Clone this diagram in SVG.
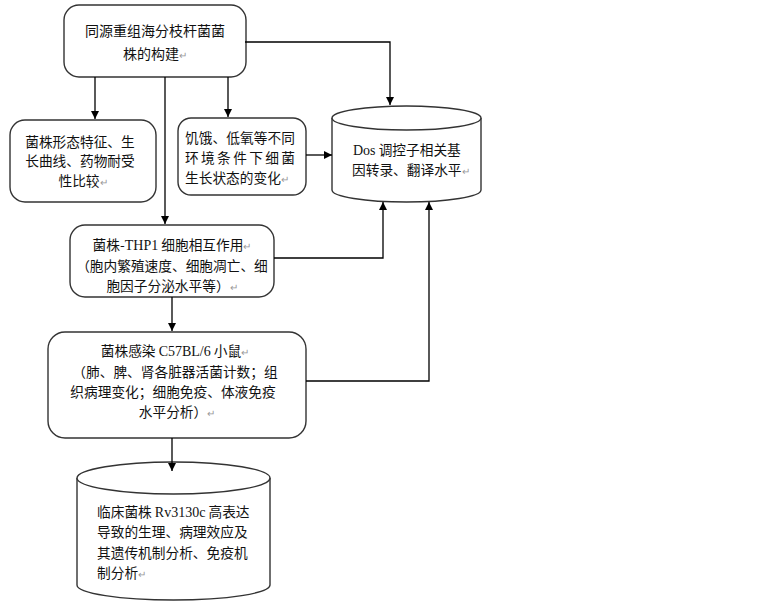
<svg xmlns="http://www.w3.org/2000/svg" width="768" height="605" viewBox="0 0 768 605">
<defs>
<marker id="arr" markerWidth="9" markerHeight="9" refX="8" refY="4.5" orient="auto" markerUnits="userSpaceOnUse">
<path d="M0,0.5 L8,4.5 L0,8.5 Z" fill="#000"/>
</marker>
</defs>
<style>
.box{fill:#fff;stroke:#333;stroke-width:1.4}
.cyl{fill:#fff;stroke:#333;stroke-width:1.4}
.t{font-family:"Noto Sans CJK SC","Noto Sans",sans-serif;font-size:13.7px;fill:#111;text-anchor:middle}
.l{text-anchor:start}
.lat{font-family:"Liberation Serif",serif;font-size:14px}
.pm{fill:#999;font-size:10px}
.c{fill:none;stroke:#000;stroke-width:1.3}
</style>
<rect width="768" height="605" fill="#fff"/>
<g id="n1">
<rect class="box" x="64" y="5" width="182" height="72" rx="15"/>
<text class="t" x="155" y="36" style="font-size:14px">同源重组海分枝杆菌菌</text>
<text class="t" x="155" y="59" style="font-size:14px">株的构建<tspan class="pm">↵</tspan></text>
</g>
<g id="n2">
<rect class="box" x="10" y="120" width="146" height="82" rx="15"/>
<text class="t" x="80" y="147">菌株形态特征、生</text>
<text class="t" x="80" y="166">长曲线、药物耐受</text>
<text class="t" x="83" y="186">性比较<tspan class="pm">↵</tspan></text>
</g>
<g id="n3">
<rect class="box" x="178" y="118" width="128" height="77" rx="13"/>
<text class="t l" x="185" y="143" textLength="110">饥饿、低氧等不同</text>
<text class="t l" x="185" y="163" textLength="110" lengthAdjust="spacing">环境条件下细菌</text>
<text class="t l" x="185" y="183">生长状态的变化<tspan class="pm">↵</tspan></text>
</g>
<g id="n4">
<path class="cyl" d="M332,118 V190 A74.5,12 0 0 0 481,190 V118"/>
<ellipse class="cyl" cx="406.5" cy="118" rx="74.5" ry="12"/>
<text class="t l" x="353" y="155"><tspan class="lat">Dos</tspan> 调控子相关基</text>
<text class="t l" x="352" y="175">因转录、翻译水平<tspan class="pm">↵</tspan></text>
</g>
<g id="n5">
<rect class="box" x="70" y="225" width="204" height="72" rx="15"/>
<text class="t" x="172" y="250">菌株-<tspan class="lat">THP1</tspan> 细胞相互作用<tspan class="pm">↵</tspan></text>
<text class="t" x="172" y="271">（胞内繁殖速度、细胞凋亡、细</text>
<text class="t" x="172" y="291">胞因子分泌水平等）<tspan class="pm">↵</tspan></text>
</g>
<g id="n6">
<rect class="box" x="48" y="332" width="258" height="106" rx="17"/>
<text class="t" x="175" y="356">菌株感染 <tspan class="lat">C57BL/6</tspan> 小鼠<tspan class="pm">↵</tspan></text>
<text class="t" x="175" y="377">（肺、脾、肾各脏器活菌计数；组</text>
<text class="t" x="173" y="397">织病理变化；细胞免疫、体液免疫</text>
<text class="t" x="177" y="417">水平分析）<tspan class="pm">↵</tspan></text>
</g>
<g id="n7">
<path class="cyl" d="M77,478 V585 A96.5,15 0 0 0 270,585 V478"/>
<ellipse class="cyl" cx="173.5" cy="478" rx="96.5" ry="16"/>
<text class="t l" x="97" y="517">临床菌株 <tspan class="lat">Rv3130c</tspan> 高表达</text>
<text class="t l" x="97" y="537">导致的生理、病理效应及</text>
<text class="t l" x="97" y="558">其遗传机制分析、免疫机</text>
<text class="t l" x="97" y="578">制分析<tspan class="pm">↵</tspan></text>
</g>
<g id="connectors">
<path class="c" d="M95,77 V119" marker-end="url(#arr)"/>
<path class="c" d="M228,77 V117" marker-end="url(#arr)"/>
<path class="c" d="M165,77 V224" marker-end="url(#arr)"/>
<path class="c" d="M245,42 H390 V105" marker-end="url(#arr)"/>
<path class="c" d="M306,155 H332" marker-end="url(#arr)"/>
<path class="c" d="M274,258 H383 V202" marker-end="url(#arr)"/>
<path class="c" d="M306,381 H429 V202" marker-end="url(#arr)"/>
<path class="c" d="M172,297 V331" marker-end="url(#arr)"/>
<path class="c" d="M172,438 V471" marker-end="url(#arr)"/>
</g>
</svg>
